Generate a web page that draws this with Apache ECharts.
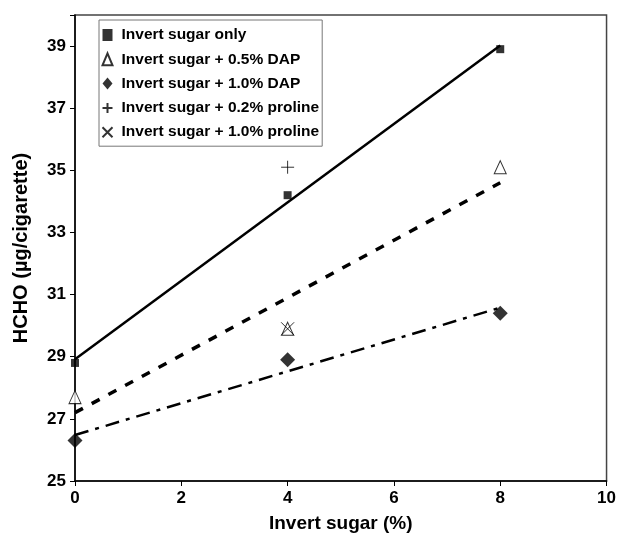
<!DOCTYPE html>
<html>
<head>
<meta charset="utf-8">
<script src="https://cdn.jsdelivr.net/npm/echarts@6/dist/echarts.min.js"></script>
<style>
html,body{margin:0;padding:0;background:#fff;}
#chart{width:619px;height:542px;}
</style>
</head>
<body>
<div id="chart"></div>
<script>
// ---- data ----
const xValues = [0, 4, 8];
const sugarOnly = [28.8, 34.2, 38.9];
const dap05 = [27.7, 29.9, 35.1];
const dap10 = [26.3, 28.9, 30.4];
const proline02X = [4];
const proline02 = [35.1];
const proline10X = [4];
const proline10 = [29.9];
// trendline endpoints (as drawn in the reference)
const trendX = [0, 8];
const trendSugarOnly = [28.92, 39.02];
const trendDap05 = [27.2, 34.6];
const trendDap10 = [26.48, 30.58];
const seriesNames = [
  'Invert sugar only',
  'Invert sugar + 0.5% DAP',
  'Invert sugar + 1.0% DAP',
  'Invert sugar + 0.2% proline',
  'Invert sugar + 1.0% proline'
];
const xTicks = [0, 2, 4, 6, 8, 10];
const yTicks = [25, 27, 29, 31, 33, 35, 37, 39];

const pair = (xs, ys) => xs.map((x, i) => [x, ys[i]]);
const FONT = 'Liberation Sans, Arial, sans-serif';

const chart = echarts.init(document.getElementById('chart'), null, {renderer: 'canvas'});
chart.setOption({
  animation: false,
  backgroundColor: '#fff',
  grid: {left: 75, right: 12, top: 15, bottom: 61, show: true, borderColor: '#444', borderWidth: 1.5},
  xAxis: {
    type: 'value', min: 0, max: 10, interval: 2,
    name: 'Invert sugar (%)', nameLocation: 'middle', nameGap: 33,
    nameTextStyle: {fontFamily: FONT, fontWeight: 'bold', fontSize: 19, color: '#000'},
    axisLine: {show: true, lineStyle: {color: '#000', width: 1.5}},
    axisTick: {show: true, inside: false, length: 5, lineStyle: {color: '#000', width: 1}},
    axisLabel: {fontFamily: FONT, fontWeight: 'bold', fontSize: 17, color: '#000', margin: 9,
      formatter: v => xTicks.includes(v) ? String(v) : ''},
    splitLine: {show: false}
  },
  yAxis: {
    type: 'value', min: 25, max: 40, interval: 2,
    name: 'HCHO (µg/cigarette)', nameLocation: 'middle', nameGap: 44,
    nameTextStyle: {fontFamily: FONT, fontWeight: 'bold', fontSize: 20, color: '#000'},
    axisLine: {show: true, lineStyle: {color: '#000', width: 1.5}},
    axisTick: {show: true, inside: false, length: 5, lineStyle: {color: '#000', width: 1}},
    axisLabel: {fontFamily: FONT, fontWeight: 'bold', fontSize: 17, color: '#000', margin: 9,
      formatter: v => yTicks.includes(v) ? String(v) : ''},
    splitLine: {show: false}
  },
  legend: {
    orient: 'vertical', left: 99, top: 20,
    data: seriesNames,
    backgroundColor: '#fff', borderColor: '#777', borderWidth: 1,
    padding: [7, 3, 6, 1], itemGap: 8.3, itemWidth: 10, itemHeight: 12,
    textStyle: {fontFamily: FONT, fontWeight: 'bold', fontSize: 15.5, color: '#000', padding: [0, 0, 0, 4], lineHeight: 16}
  },
  series: [
    {type: 'line', data: pair(trendX, trendSugarOnly), symbol: 'none', silent: true,
      lineStyle: {color: '#000', width: 2.5, type: 'solid'}, z: 1},
    {type: 'line', data: pair(trendX, trendDap05), symbol: 'none', silent: true,
      lineStyle: {color: '#000', width: 3.5, type: [9, 10]}, z: 1},
    {type: 'line', data: pair(trendX, trendDap10), symbol: 'none', silent: true,
      lineStyle: {color: '#000', width: 2.5, type: [14, 7, 4, 7]}, z: 1},
    {name: seriesNames[0], type: 'scatter', data: pair(xValues, sugarOnly),
      symbol: 'rect', symbolSize: 8, itemStyle: {color: '#000'}, z: 3},
    {name: seriesNames[1], type: 'scatter', data: pair(xValues, dap05),
      symbol: 'triangle', symbolSize: [12, 13], itemStyle: {color: '#fff', borderColor: '#000', borderWidth: 1}, z: 3},
    {name: seriesNames[2], type: 'scatter', data: pair(xValues, dap10),
      symbol: 'diamond', symbolSize: [15, 15], itemStyle: {color: '#000'}, z: 3},
    {name: seriesNames[3], type: 'scatter', data: pair(proline02X, proline02),
      symbol: 'path://M5,0 L5,10 M0,5 L10,5', symbolSize: 13,
      itemStyle: {color: 'none', borderColor: '#000', borderWidth: 1}, z: 4},
    {name: seriesNames[4], type: 'scatter', data: pair(proline10X, proline10),
      symbol: 'path://M0,0 L10,10 M10,0 L0,10', symbolSize: 13,
      itemStyle: {color: 'none', borderColor: '#000', borderWidth: 1}, z: 4}
  ]
});
</script>
</body>
</html>
